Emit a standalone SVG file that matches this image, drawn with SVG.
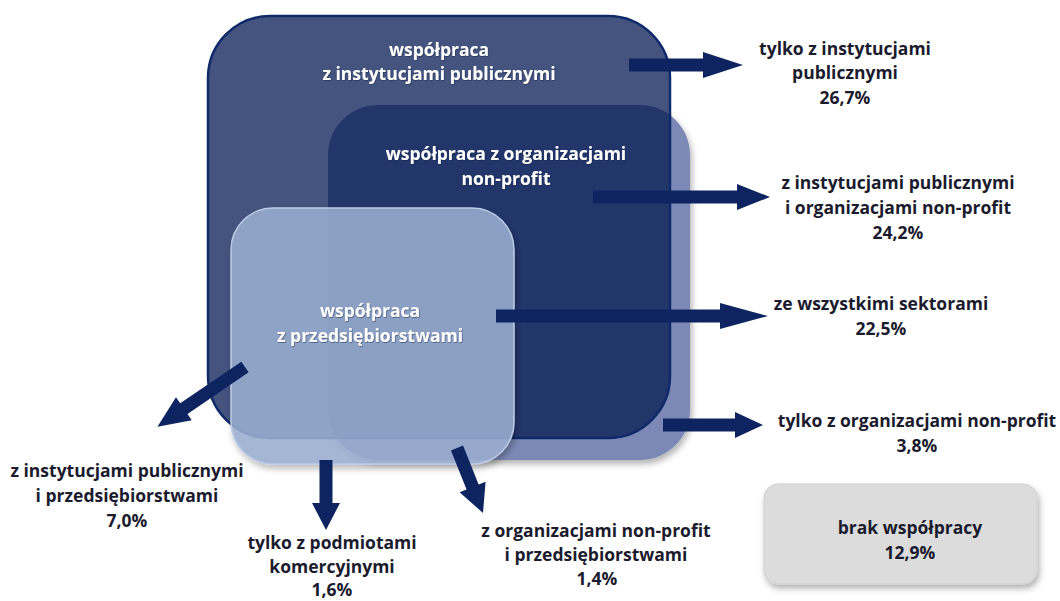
<svg xmlns="http://www.w3.org/2000/svg" width="1060" height="601" viewBox="0 0 1060 601">
<defs>
<style>
text{font-family:"Open Sans","Liberation Sans",sans-serif;font-weight:700;font-size:17.5px;text-anchor:middle}
.w{fill:#ffffff}
.d{fill:#1b1b2e}
.arrow{fill:#0d2461}
</style>
<filter id="sh" x="-10%" y="-10%" width="130%" height="130%">
<feDropShadow dx="2" dy="4" stdDeviation="3" flood-color="#000" flood-opacity="0.3"/>
</filter>
<filter id="ts" x="-5%" y="-20%" width="110%" height="140%">
<feDropShadow dx="0.6" dy="0.8" stdDeviation="0.6" flood-color="#0a1a40" flood-opacity="0.6"/>
</filter>
<clipPath id="pubClip"><rect x="208" y="16" width="462" height="422" rx="62"/></clipPath>
</defs>
<g id="nonprofit">
<rect x="328" y="105" width="362" height="355" rx="50" fill="#7b88b6" filter="url(#sh)"/>
</g>
<g id="public">
<rect x="208" y="16" width="462" height="422" rx="62" fill="#44547e"/>
<rect x="328" y="105" width="362" height="355" rx="50" fill="#22366a" clip-path="url(#pubClip)"/>
<rect x="208" y="16" width="462" height="422" rx="62" fill="none" stroke="#0f2a6a" stroke-width="2.5"/>
</g>
<g id="enterprise">
<rect x="231" y="208" width="283" height="256" rx="42" fill="#9cb0d3" fill-opacity="0.85" stroke="#bccbe6" stroke-width="1.5" filter="url(#sh)"/>
</g>
<g id="labels-inside" filter="url(#ts)">
<text class="w" x="439" y="56">współpraca</text>
<text class="w" x="439" y="80">z instytucjami publicznymi</text>
<text class="w" x="506" y="160">współpraca z organizacjami</text>
<text class="w" x="506" y="185">non-profit</text>
<text class="w" x="370" y="317">współpraca</text>
<text class="w" x="370" y="342">z przedsiębiorstwami</text>
</g>
<g id="connectors">
<polygon class="arrow" points="629,58.5 703,58.5 703,52 743,65 703,78 703,71.5 629,71.5"/>
<polygon class="arrow" points="593,190.5 737,190.5 737,184 770,197 737,210 737,203.5 593,203.5"/>
<polygon class="arrow" points="496,309.5 720,309.5 720,303 768,316 720,329 720,322.5 496,322.5"/>
<polygon class="arrow" points="663,418.5 735,418.5 735,412 763,425 735,438 735,431.5 663,431.5"/>
<polygon class="arrow" transform="translate(245,367) rotate(145.7)" points="0,-6.5 74,-6.5 74,-14 106,0 74,14 74,6.5 0,6.5"/>
<polygon class="arrow" transform="translate(326,460) rotate(90)" points="0,-6.5 43,-6.5 43,-14 70,0 43,14 43,6.5 0,6.5"/>
<polygon class="arrow" transform="translate(457,448) rotate(68.2)" points="0,-6.5 42,-6.5 42,-14 70,0 42,14 42,6.5 0,6.5"/>
</g>
<g id="r1">
<text class="d" x="845" y="55">tylko z instytucjami</text>
<text class="d" x="845" y="79">publicznymi</text>
<text class="d" x="845" y="104">26,7%</text>
</g>
<g id="r2">
<text class="d" x="898" y="189">z instytucjami publicznymi</text>
<text class="d" x="898" y="214">i organizacjami non-profit</text>
<text class="d" x="898" y="239">24,2%</text>
</g>
<g id="r3">
<text class="d" x="881" y="310">ze wszystkimi sektorami</text>
<text class="d" x="881" y="335">22,5%</text>
</g>
<g id="r4">
<text class="d" x="917" y="427">tylko z organizacjami non-profit</text>
<text class="d" x="917" y="452">3,8%</text>
</g>
<g id="none">
<rect x="764" y="484" width="273" height="100" rx="14" fill="#dcdcdc" stroke="#d0d0d0" stroke-width="1" filter="url(#sh)"/>
<text class="d" x="910" y="534">brak współpracy</text>
<text class="d" x="910" y="559">12,9%</text>
</g>
<g id="b1">
<text class="d" x="127" y="477">z instytucjami publicznymi</text>
<text class="d" x="127" y="502">i przedsiębiorstwami</text>
<text class="d" x="127" y="527">7,0%</text>
</g>
<g id="b2">
<text class="d" x="332" y="549">tylko z podmiotami</text>
<text class="d" x="332" y="573">komercyjnymi</text>
<text class="d" x="332" y="596">1,6%</text>
</g>
<g id="b3">
<text class="d" x="596" y="537">z organizacjami non-profit</text>
<text class="d" x="596" y="561">i przedsiębiorstwami</text>
<text class="d" x="597" y="585">1,4%</text>
</g>
</svg>
